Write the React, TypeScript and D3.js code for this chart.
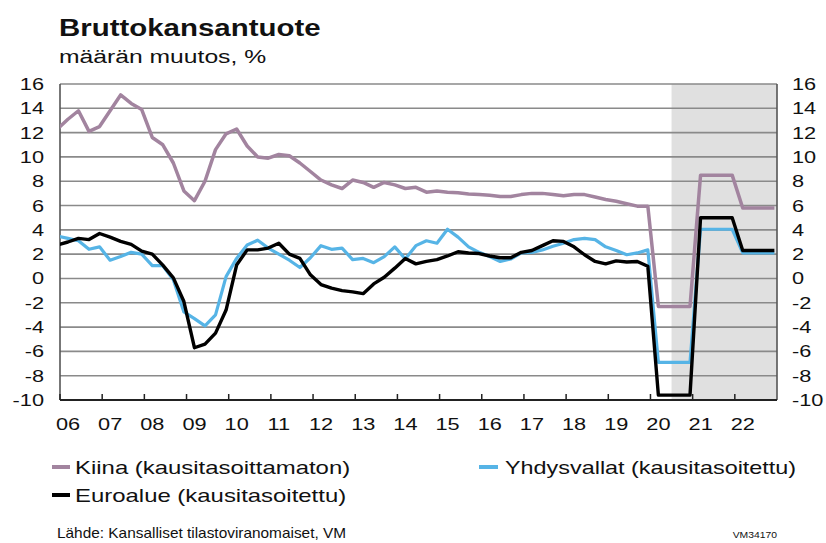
import * as d3 from 'd3';

// quarterly values, first point 2005Q4 (clipped at the left edge), last 2022Q4
const kiina = [
  12.3, 13.1, 13.8, 12.1, 12.5, 13.8, 15.1, 14.4, 13.9, 11.6, 11.0, 9.5, 7.2, 6.4, 8.0, 10.6, 11.9,
  12.3, 10.9, 10.0, 9.9, 10.2, 10.1, 9.5, 8.8, 8.1, 7.7, 7.4, 8.1, 7.9, 7.5, 7.9, 7.7, 7.4, 7.5,
  7.1, 7.2, 7.1, 7.05, 6.95, 6.9, 6.85, 6.75, 6.75, 6.9, 7.0, 7.0, 6.9, 6.8, 6.9, 6.9, 6.7, 6.5,
  6.35, 6.15, 5.95, 5.95, -2.3, -2.3, -2.3, -2.3, 8.5, 8.5, 8.5, 8.5, 5.8, 5.8, 5.8, 5.8,
];
const yhdysvallat = [
  3.5, 3.3, 3.1, 2.4, 2.6, 1.5, 1.8, 2.15, 2.0, 1.05, 1.05, -0.1, -2.75, -3.3, -3.9, -3.0, 0.15,
  1.65, 2.75, 3.15, 2.5, 2.0, 1.5, 0.9, 1.7, 2.7, 2.4, 2.5, 1.55, 1.65, 1.3, 1.8, 2.6, 1.6, 2.7,
  3.1, 2.9, 4.05, 3.4, 2.6, 2.15, 1.8, 1.4, 1.6, 2.1, 2.15, 2.35, 2.65, 2.9, 3.2, 3.3, 3.2, 2.6,
  2.3, 1.95, 2.1, 2.35, -6.9, -6.9, -6.9, -6.9, 4.05, 4.05, 4.05, 4.05, 2.1, 2.1, 2.1, 2.1,
];
const euroalue = [
  2.75, 3.0, 3.3, 3.2, 3.7, 3.4, 3.05, 2.8, 2.25, 2.0, 1.1, 0.05, -1.9, -5.7, -5.4, -4.5, -2.6,
  1.1, 2.35, 2.35, 2.5, 2.9, 2.0, 1.65, 0.3, -0.5, -0.8, -1.0, -1.1, -1.25, -0.45, 0.1, 0.85, 1.65,
  1.2, 1.4, 1.55, 1.85, 2.2, 2.1, 2.05, 1.85, 1.7, 1.7, 2.15, 2.3, 2.7, 3.1, 3.05, 2.6, 1.95, 1.4,
  1.2, 1.45, 1.35, 1.4, 1.0, -9.6, -9.6, -9.6, -9.6, 5.0, 5.0, 5.0, 5.0, 2.3, 2.3, 2.3, 2.3,
];
const years = d3.range(2006, 2023);
const yTicks = d3.range(-10, 17, 2);
const forecastStart = 2020.5;

const SX = 1.28; // the reference text is stretched horizontally

const T = ({ x, y, size, anchor = 'start', weight = 'normal', sx = SX, children }: any) => (
  <text
    transform={`translate(${x},${y}) scale(${sx},1)`}
    fontSize={size}
    fontWeight={weight}
    textAnchor={anchor}
    fontFamily="Liberation Sans, Arial, sans-serif"
    fill="#111"
  >
    {children}
  </text>
);

export default function App() {
  const left = 60, right = 777, top = 84, bottom = 400;

  const x = d3.scaleLinear().domain([2006, 2023]).range([left, right]);
  const y = d3.scaleLinear().domain([-10, 16]).range([bottom, top]);
  const xq = (i: number) => x(2006 + (i - 0.25) / 4);

  const line = d3.line<number>().x((_, i) => xq(i)).y(d => y(d));

  const series = [
    { data: kiina, color: '#a2849f', w: 3.5 },
    { data: yhdysvallat, color: '#56b4e6', w: 3.2 },
    { data: euroalue, color: '#000', w: 3.4 },
  ];

  return (
    <svg width={826} height={543} style={{ position: 'absolute', left: 0, top: 0, background: '#fff' }}>
      <defs>
        <clipPath id="plot">
          <rect x={left} y={top - 5} width={right - left} height={bottom - top + 10} />
        </clipPath>
      </defs>

      <T x={59} y={36} size={23} weight="bold">Bruttokansantuote</T>
      <T x={59} y={63} size={19} sx={1.3}>määrän muutos, %</T>

      <rect x={x(forecastStart)} y={top} width={right - x(forecastStart)} height={bottom - top} fill="#e0e0e0" />

      {yTicks.filter(t => t > -10).map(t => (
        <line key={t} x1={left} x2={right} y1={y(t)} y2={y(t)} stroke="#8a8a8a" strokeWidth={1.6} />
      ))}
      <line x1={left} x2={left} y1={top} y2={bottom} stroke="#555" strokeWidth={1.6} />
      <line x1={right} x2={right} y1={top} y2={bottom} stroke="#555" strokeWidth={1.6} />

      <g clipPath="url(#plot)">
        {series.map((s, k) => (
          <path key={k} d={line(s.data) ?? ''} fill="none" stroke={s.color} strokeWidth={s.w} strokeLinejoin="round" />
        ))}
      </g>

      <line x1={left} x2={right} y1={bottom} y2={bottom} stroke="#222" strokeWidth={2} />
      {years.map(yr => (
        <line key={yr} x1={x(yr)} x2={x(yr)} y1={bottom} y2={bottom - 6} stroke="#222" strokeWidth={1.5} />
      ))}

      {yTicks.map(t => (
        <g key={t}>
          <T x={44} y={y(t) + 6} size={17} anchor="end">{t}</T>
          <T x={792} y={y(t) + 6} size={17}>{t}</T>
        </g>
      ))}
      {years.map(yr => (
        <T key={yr} x={x(yr) + 8} y={430} size={17} anchor="middle">{String(yr).slice(2)}</T>
      ))}

      <line x1={52} x2={70} y1={467} y2={467} stroke="#a2849f" strokeWidth={4} />
      <T x={75} y={474} size={18} sx={1.33}>Kiina (kausitasoittamaton)</T>
      <line x1={479} x2={498} y1={467} y2={467} stroke="#56b4e6" strokeWidth={4} />
      <T x={505} y={474} size={18} sx={1.3}>Yhdysvallat (kausitasoitettu)</T>
      <line x1={52} x2={70} y1={495} y2={495} stroke="#000" strokeWidth={4} />
      <T x={75} y={502} size={18} sx={1.33}>Euroalue (kausitasoitettu)</T>

      <T x={57} y={538} size={14} sx={1.1}>Lähde: Kansalliset tilastoviranomaiset, VM</T>
      <T x={777} y={538} size={9} anchor="end" sx={1.15}>VM34170</T>
    </svg>
  );
}
